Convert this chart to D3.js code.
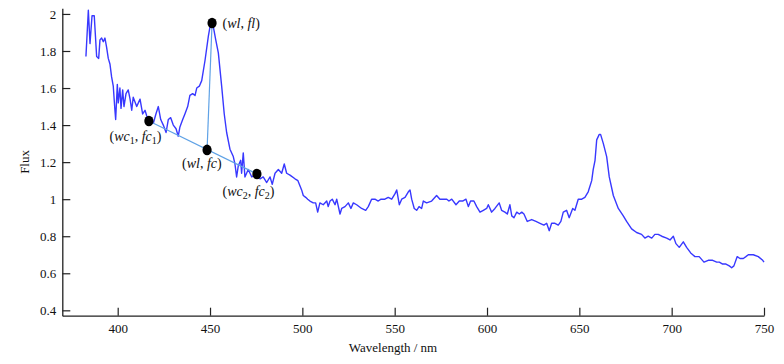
<!DOCTYPE html>
<html>
<head>
<meta charset="utf-8">
<script src="https://cdn.jsdelivr.net/npm/d3@7/dist/d3.min.js"></script>
<style>
  html, body { margin: 0; padding: 0; background: #fff; }
  svg text { font-family: "Liberation Serif", "Times New Roman", serif; fill: #111; }
</style>
</head>
<body>
<svg id="chart" width="784" height="364"></svg>
<script>
// ---- data ----
const wavelength = [382.8,384.1,385.0,386.1,387.3,388.6,389.7,390.4,391.3,392.2,393.1,394.0,394.9,395.8,396.7,397.6,398.5,398.9,399.8,400.3,401.2,401.8,402.7,403.4,404.5,405.7,406.7,407.6,408.4,410.3,412.1,413.5,414.8,415.7,417.0,419.3,420.7,422.0,423.3,424.7,426.2,427.4,428.7,430.1,431.6,432.8,433.7,435.2,436.4,437.9,439.1,440.6,441.9,442.8,444.2,445.5,447.3,449.1,450.5,451.8,453.1,454.5,456.3,457.7,459.0,460.8,462.6,463.5,464.4,465.3,466.6,467.1,468.0,468.9,470.7,472.6,475.3,477.1,478.8,480.7,482.5,483.7,485.2,487.0,488.8,490.2,491.5,493.3,496.0,497.6,499.6,500.5,501.8,502.9,504.1,505.9,507.2,508.3,509.5,511.3,513.2,514.0,515.0,516.2,517.7,518.6,520.4,521.3,523.1,524.9,526.3,527.6,529.4,532.1,534.3,535.7,537.5,539.3,541.1,542.6,544.7,546.5,548.4,550.2,551.1,552.5,553.8,555.6,557.4,558.3,559.2,560.6,561.9,563.2,564.6,565.5,567.3,570.0,572.7,574.5,576.3,578.2,579.4,580.9,583.2,585.0,586.8,588.6,589.9,591.1,592.9,594.4,596.2,598.0,599.8,600.7,602.5,604.3,606.6,607.9,609.7,611.0,612.4,613.4,614.6,616.1,617.5,618.8,620.0,621.8,624.2,626.5,628.7,630.8,632.3,633.7,635.0,636.8,638.6,640.0,641.3,643.1,644.5,646.4,647.6,649.4,651.3,653.0,654.8,656.7,657.5,658.5,659.4,660.8,661.5,663.0,664.8,666.2,668.4,671.1,673.8,675.6,678.3,681.0,683.7,685.5,687.3,689.2,690.9,692.7,694.6,697.3,699.1,700.9,702.3,704.1,706.3,708.1,710.3,712.6,714.9,717.5,719.8,722.2,724.4,725.8,727.6,729.4,731.2,732.5,733.7,735.5,737.0,738.8,740.2,741.5,744.2,746.9,749.3,750.0];
const flux = [1.77,2.02,1.84,1.99,1.99,1.77,1.76,1.86,1.87,1.85,1.87,1.82,1.76,1.73,1.66,1.61,1.48,1.43,1.62,1.52,1.60,1.49,1.59,1.50,1.57,1.59,1.54,1.48,1.55,1.50,1.54,1.46,1.48,1.45,1.42,1.41,1.46,1.50,1.43,1.40,1.36,1.43,1.44,1.40,1.38,1.34,1.39,1.43,1.46,1.50,1.56,1.57,1.56,1.60,1.61,1.64,1.75,1.88,1.96,1.93,1.86,1.79,1.61,1.46,1.36,1.27,1.23,1.19,1.12,1.18,1.21,1.14,1.25,1.12,1.16,1.12,1.14,1.11,1.12,1.09,1.12,1.08,1.14,1.16,1.14,1.19,1.14,1.13,1.11,1.10,1.05,1.02,1.01,1.00,0.99,0.98,0.98,0.93,0.98,0.97,0.99,0.96,0.99,1.00,0.97,1.00,0.92,0.95,0.96,0.98,0.95,0.98,0.97,0.95,0.94,0.96,1.00,1.00,0.99,1.00,1.00,1.01,1.00,1.03,1.05,0.97,1.00,1.01,1.04,1.05,1.00,0.95,0.94,0.96,0.95,0.99,0.98,0.99,1.02,1.00,1.00,1.00,0.99,1.00,0.97,0.99,0.99,1.00,0.96,0.99,0.99,0.96,0.93,0.94,0.95,0.97,0.93,0.95,0.98,0.94,0.93,0.92,0.97,0.91,0.90,0.93,0.92,0.93,0.92,0.88,0.89,0.88,0.87,0.86,0.87,0.83,0.87,0.87,0.86,0.88,0.93,0.94,0.90,0.95,0.94,1.00,1.00,1.01,1.04,1.10,1.16,1.21,1.32,1.35,1.35,1.30,1.23,1.12,1.02,0.95,0.91,0.88,0.84,0.82,0.81,0.79,0.80,0.79,0.81,0.81,0.80,0.79,0.78,0.80,0.76,0.74,0.77,0.74,0.71,0.69,0.69,0.66,0.67,0.67,0.66,0.66,0.65,0.65,0.64,0.63,0.64,0.69,0.68,0.68,0.69,0.70,0.70,0.69,0.67,0.66];

const markWl   = [416.9, 451.1, 448.4, 475.4];
const markFlux = [1.422, 1.951, 1.266, 1.136];
const markLabels = [
  [["(", ""], ["wc", "i"], ["1", "sub"], [", ", ""], ["fc", "i"], ["1", "sub"], [")", ""]],
  [["(", ""], ["wl", "i"], [", ", ""], ["fl", "i"], [")", ""]],
  [["(", ""], ["wl", "i"], [", ", ""], ["fc", "i"], [")", ""]],
  [["(", ""], ["wc", "i"], ["2", "sub"], [", ", ""], ["fc", "i"], ["2", "sub"], [")", ""]]
];
const xTicks = [400, 450, 500, 550, 600, 650, 700, 750];
const yTicks = [0.4, 0.6, 0.8, 1, 1.2, 1.4, 1.6, 1.8, 2];
const xTitle = "Wavelength / nm";
const yTitle = "Flux";

// ---- layout ----
const svg = d3.select("#chart");
const x = d3.scaleLinear().domain([370, 750]).range([62.3, 764]);
const y = d3.scaleLinear().domain([0.371, 2.031]).range([315.7, 8.2]);

// axes
const xAxis = d3.axisBottom(x).tickValues(xTicks).tickSizeInner(-8).tickSizeOuter(0).tickPadding(8).tickFormat(d3.format("d"));
const yAxis = d3.axisLeft(y).tickValues(yTicks).tickSizeInner(-8).tickSizeOuter(0).tickPadding(6).tickFormat(d => String(d));

const gx = svg.append("g").attr("transform", `translate(0,${y.range()[0]})`).call(xAxis);
const gy = svg.append("g").attr("transform", `translate(${x.range()[0]},0)`).call(yAxis);
[gx, gy].forEach(g => {
  g.select(".domain").attr("stroke", "#222").attr("stroke-width", 1.3);
  g.selectAll(".tick line").attr("stroke", "#222").attr("stroke-width", 1.2);
  g.selectAll(".tick text").style("font-family", '"Liberation Serif", serif').style("font-size", "13px").attr("fill", "#111");
});

svg.append("text").attr("x", 393).attr("y", 352)
  .attr("text-anchor", "middle").style("font-size", "13px").text(xTitle);
svg.append("text").attr("transform", `translate(29,${(y.range()[0] + y.range()[1]) / 2}) rotate(-90)`)
  .attr("text-anchor", "middle").style("font-size", "13px").text(yTitle);

// spectrum
const spec = wavelength.map((w, i) => [w, flux[i]]);
svg.append("path").datum(spec)
  .attr("fill", "none").attr("stroke", "#3838ff").attr("stroke-width", 1.4).attr("stroke-linejoin", "round")
  .attr("d", d3.line().x(d => x(d[0])).y(d => y(d[1])));

// continuum line and vertical line
const pts = markWl.map((w, i) => [w, markFlux[i]]);
const thin = d3.line().x(d => x(d[0])).y(d => y(d[1]));
svg.append("path").datum([pts[0], pts[3]]).attr("fill", "none").attr("stroke", "#5fa2e6").attr("stroke-width", 1.2).attr("d", thin);
svg.append("path").datum([pts[2], pts[1]]).attr("fill", "none").attr("stroke", "#5fa2e6").attr("stroke-width", 1.2).attr("d", thin);

// dots
svg.selectAll("ellipse.mk").data(pts).enter().append("ellipse").attr("class", "mk")
  .attr("cx", d => x(d[0])).attr("cy", d => y(d[1])).attr("rx", 4.6).attr("ry", 5.3).attr("fill", "#000");

// labels
const labelPos = [[109.5, 141], [222.5, 28], [182, 168], [222.5, 196]];
markLabels.forEach((parts, i) => {
  const t = svg.append("text").attr("x", labelPos[i][0]).attr("y", labelPos[i][1]).style("font-size", "14px");
  parts.forEach((p, j) => {
    const s = t.append("tspan").text(p[0]);
    if (p[1] === "i") s.style("font-style", "italic");
    if (p[1] === "sub") s.style("font-size", "10px").attr("dy", 3);
    else if (j > 0 && parts[j - 1][1] === "sub") s.attr("dy", -3);
  });
});
</script>
</body>
</html>
